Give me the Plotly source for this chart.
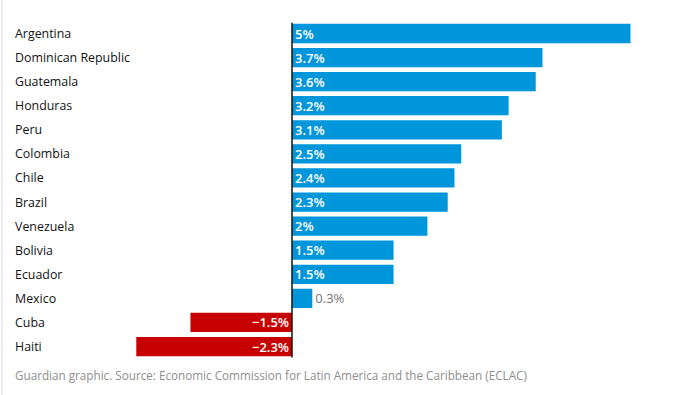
import plotly.graph_objects as go

countries = ["Argentina", "Dominican Republic", "Guatemala", "Honduras", "Peru",
             "Colombia", "Chile", "Brazil", "Venezuela", "Bolivia", "Ecuador",
             "Mexico", "Cuba", "Haiti"]
growth = [5, 3.7, 3.6, 3.2, 3.1, 2.5, 2.4, 2.3, 2, 1.5, 1.5, 0.3, -1.5, -2.3]
source_text = "Guardian graphic. Source: Economic Commission for Latin America and the Caribbean (ECLAC)"

W, H = 681, 395
BLUE = "#0096db"
RED = "#c70000"
FONT = "Open Sans"

labels = [f"{v:g}%".replace("-", "\u2212") for v in growth]
colors = [BLUE if v >= 0 else RED for v in growth]
positions = ["outside" if abs(v) < 0.5 else "inside" for v in growth]
text_colors = ["#767676" if p == "outside" else "white" for p in positions]

# axis geometry: zero at 292px, ~67.7 px per unit
ppu = 67.7
x0 = -292 / ppu
x1 = (W - 292) / ppu
# categories: first center at 33.5px, spacing 24.08px
spacing = 24.08
ytop = -33.5 / spacing
ybot = ytop + H / spacing

fig = go.Figure()
fig.add_trace(go.Bar(
    x=growth, y=countries, orientation="h",
    marker=dict(color=colors, line=dict(width=0)),
    width=0.8,
    text=labels, textposition=positions,
    insidetextanchor="start",
    textfont=dict(color=text_colors, size=13, family=FONT),
    outsidetextfont=dict(color="#767676", size=13, family=FONT),
    insidetextfont=dict(color="white", size=13, family="Open Sans SemiBold, " + FONT),
    constraintext="none", cliponaxis=False,
    hoverinfo="skip",
))

for c in countries:
    fig.add_annotation(x=13 / W, xref="paper", y=c, yref="y", text=c,
                       showarrow=False, xanchor="left", yanchor="middle",
                       font=dict(size=12.4, color="#121212", family=FONT))

fig.add_annotation(x=13 / W, xref="paper", y=(H - 375) / H, yref="paper",
                   text=source_text, showarrow=False, xanchor="left", yanchor="middle",
                   font=dict(size=11.7, color="#8e8e8e", family=FONT))

# zero line
fig.add_shape(type="line", xref="x", yref="y", x0=0, x1=0, y0=-0.45, y1=len(countries) - 0.55,
              line=dict(color="#121212", width=1.5))
# left faint rule
fig.add_shape(type="line", xref="paper", yref="paper", x0=2 / W, x1=2 / W, y0=0, y1=1,
              line=dict(color="#dcdcdc", width=1))

fig.update_layout(
    width=W, height=H,
    margin=dict(l=0, r=0, t=0, b=0),
    paper_bgcolor="white", plot_bgcolor="white",
    showlegend=False,
    font=dict(family=FONT),
    xaxis=dict(range=[x0, x1], visible=False, fixedrange=True),
    yaxis=dict(range=[ybot, ytop], visible=False, type="category",
               categoryorder="array", categoryarray=countries, fixedrange=True),
    bargap=0.2,
)

fig.write_html("out.html", config={"displayModeBar": False},
               post_script="document.body.style.margin='0';document.body.style.overflow='hidden';")
